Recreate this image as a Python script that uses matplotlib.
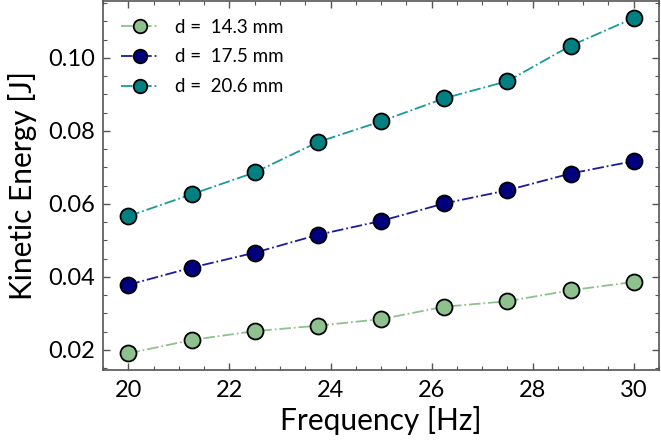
import matplotlib
matplotlib.use("Agg")
import matplotlib.pyplot as plt
from matplotlib.ticker import MultipleLocator

plt.rcParams['font.family'] = ['Lato', 'DejaVu Sans']

freq = [20.0, 21.25, 22.5, 23.75, 25.0, 26.25, 27.5, 28.75, 30.0]
ke_143 = [0.0190, 0.0227, 0.0251, 0.0266, 0.0284, 0.0318, 0.0333, 0.0363, 0.0386]
ke_175 = [0.0378, 0.0425, 0.0466, 0.0515, 0.0553, 0.0601, 0.0637, 0.0683, 0.0717]
ke_206 = [0.0566, 0.0626, 0.0686, 0.0769, 0.0826, 0.0889, 0.0936, 0.1033, 0.1109]
labels = ['d =  14.3 mm', 'd =  17.5 mm', 'd =  20.6 mm']
colors = ['#8fc18f', '#00007f', '#008080']
line_colors = ['#8fc18f', '#1a1aa0', '#1a9a9a']

fig = plt.figure(figsize=(6.61, 4.44), dpi=100)
ax = fig.add_axes([0.156, 0.167, 0.841, 0.831])

for ys, lab, c, lc in zip([ke_143, ke_175, ke_206], labels, colors, line_colors):
    ax.plot(freq, ys, linestyle='-.', color=lc, linewidth=1.3,
            marker='o', markersize=11.5, markerfacecolor=c,
            markeredgecolor='black', markeredgewidth=1.3, label=lab)

ax.set_xlim(19.5, 30.5)
ax.set_ylim(0.0145, 0.1156)
ax.xaxis.set_major_locator(MultipleLocator(2))
ax.xaxis.set_minor_locator(MultipleLocator(0.5))
ax.yaxis.set_major_locator(MultipleLocator(0.02))
ax.yaxis.set_minor_locator(MultipleLocator(0.005))
ax.yaxis.set_major_formatter(matplotlib.ticker.FormatStrFormatter('%.2f'))
ax.tick_params(which='both', direction='in', top=True, right=True, labelsize=17, color='#555555')
ax.tick_params(which='major', length=5, width=1)
ax.tick_params(which='minor', length=3, width=0.8)
ax.tick_params(axis='x', pad=7)
ax.tick_params(axis='y', pad=6)
for s in ax.spines.values():
    s.set_color('#555555')
    s.set_linewidth(1.2)

ax.set_xlabel('Frequency [Hz]', fontsize=21.5, labelpad=4)
ax.set_ylabel('Kinetic Energy [J]', fontsize=21.5, labelpad=8)

ax.legend(loc='upper left', frameon=False, fontsize=13.5, handlelength=2.0,
          markerscale=0.85, labelspacing=0.68, borderaxespad=0.35, borderpad=0.6,
          handletextpad=0.9)

fig.savefig('out.png', dpi=100)
